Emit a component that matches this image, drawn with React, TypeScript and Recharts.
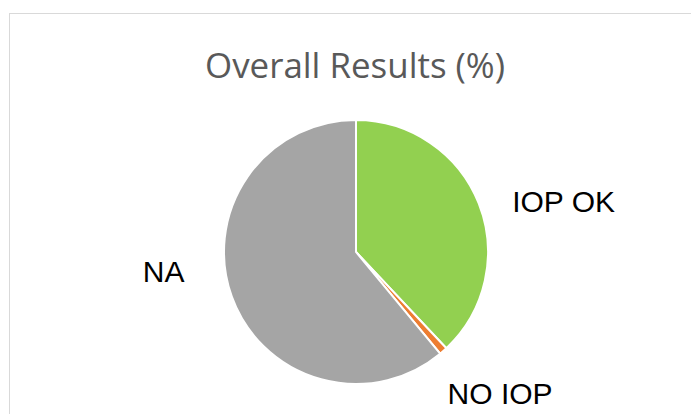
import { PieChart, Pie, Cell } from "recharts";

const categories = ["IOP OK", "NO IOP", "NA"];
const shares = [38, 1, 61];
const colors = ["#92D050", "#ED7D31", "#A5A5A5"];

const data = categories.map((name, i) => ({ name, value: shares[i] }));

// excel "best fit" labels don't sit exactly on the mid angle, so nudge them a bit
const labelNudge: Record<string, [number, number]> = {
  "IOP OK": [57, 20],
  "NO IOP": [37, 30],
  NA: [-40, -25],
};

const RADIAN = Math.PI / 180;

function renderLabel(props: any) {
  const { cx, cy, midAngle, outerRadius, name } = props;
  const r = outerRadius + 30;
  const [dx, dy] = labelNudge[name] || [0, 0];
  const x = cx + r * Math.cos(-midAngle * RADIAN) + dx;
  const y = cy + r * Math.sin(-midAngle * RADIAN) + dy;
  return (
    <text
      x={x}
      y={y}
      textAnchor="middle"
      fill="#000"
      fontSize={30}
      fontFamily="'Liberation Sans', Arial, sans-serif"
    >
      {name}
    </text>
  );
}

export default function App() {
  return (
    <div
      style={{
        position: "fixed",
        left: 0,
        top: 0,
        width: 691,
        height: 414,
        overflow: "hidden",
        background: "#fff",
      }}
    >
      <div
        style={{
          position: "absolute",
          left: 9,
          top: 13,
          width: 720,
          height: 440,
          border: "1px solid #d9d9d9",
        }}
      />
      <svg
        width={691}
        height={100}
        style={{ position: "absolute", left: 0, top: 0 }}
      >
        <text
          x={355}
          y={78}
          textAnchor="middle"
          fill="#595959"
          fontSize={34}
          fontFamily="'Open Sans', sans-serif"
          textLength={300}
          lengthAdjust="spacingAndGlyphs"
        >
          Overall Results (%)
        </text>
      </svg>
      <div style={{ position: "absolute", left: 0, top: 0 }}>
        <PieChart
          width={691}
          height={414}
          margin={{ top: 0, right: 0, bottom: 0, left: 0 }}
        >
          <Pie
            data={data}
            dataKey="value"
            nameKey="name"
            cx={356}
            cy={252}
            outerRadius={132}
            startAngle={90}
            endAngle={-270}
            stroke="#fff"
            strokeWidth={2}
            labelLine={false}
            label={renderLabel}
            isAnimationActive={false}
          >
            {data.map((d, i) => (
              <Cell key={d.name} fill={colors[i]} />
            ))}
          </Pie>
        </PieChart>
      </div>
    </div>
  );
}
